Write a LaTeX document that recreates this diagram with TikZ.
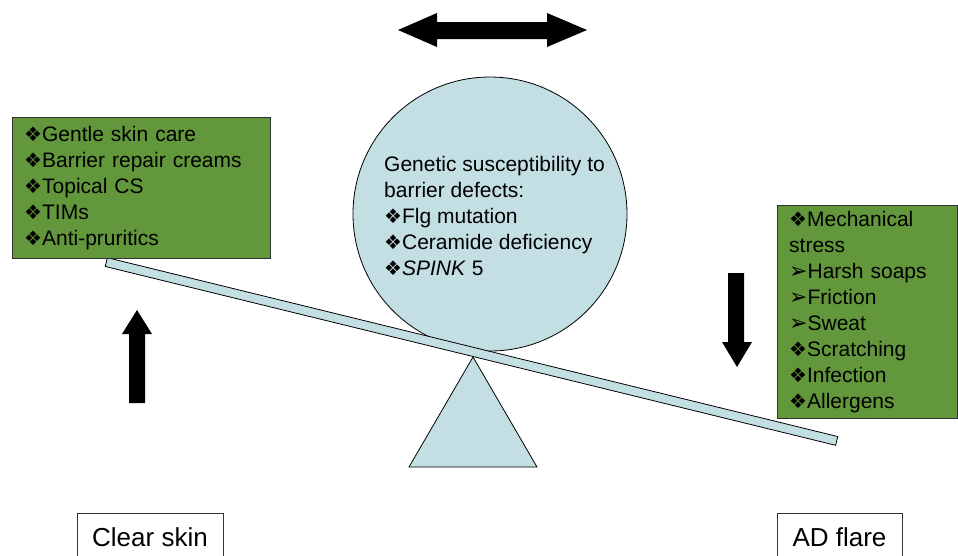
\documentclass[tikz,border=0pt]{standalone}
\usepackage{fontspec}
\setmainfont{Liberation Sans}
\newfontfamily\dingfont{DejaVu Sans}
\usetikzlibrary{calc}
\definecolor{boxgreen}{RGB}{98,151,59}
\definecolor{scalefill}{RGB}{196,223,227}
\newcommand{\diabullet}{{\dingfont\fontsize{20}{20}\selectfont\char"2756}}
\newcommand{\arrbullet}{{\dingfont\fontsize{22}{22}\selectfont\char"27A2}}
\tikzstyle{greenbox}   = [draw=black!80, fill=boxgreen, anchor=north west, align=left, inner xsep=12pt, inner ysep=0pt, font=\fontsize{21}{26}\selectfont]
\tikzstyle{labelbox}   = [draw=black!80, fill=white, minimum height=48pt, font=\fontsize{26}{30}\selectfont]
\tikzstyle{part}       = [draw=black, fill=scalefill, line width=0.8pt]
\tikzstyle{blockarrow} = [fill=black]

\begin{document}
\begin{tikzpicture}[x=1pt, y=-1pt]
  \useasboundingbox (0,0) rectangle (958,555);

  %the balance: ball, beam and pivot
  \node[part, circle, minimum size=274pt, inner sep=0pt] (ball) at (490,214) {};
  \node[anchor=west, align=left, inner sep=0pt, font=\fontsize{21}{26}\selectfont] (genes) at (384,216)
    {Genetic susceptibility to\\barrier defects:\\\diabullet Flg mutation\\\diabullet Ceramide deficiency\\\diabullet\textit{SPINK} 5};
  \node[part, rectangle, minimum width=752pt, minimum height=9pt, inner sep=0pt, rotate=-13.76] (beam) at (471.5,351.5) {};
  \draw[part] (473,357) -- (537,467) -- (409,467) -- cycle;

  %put the boxes on the two ends
  \node[greenbox, text width=234pt, minimum width=258pt, minimum height=141pt] (therapy) at (12,117)
    {\diabullet Gentle skin care\\\diabullet Barrier repair creams\\\diabullet Topical CS\\\diabullet TIMs\\\diabullet Anti-pruritics};
  \node[greenbox, text width=156pt, minimum width=180pt, minimum height=213pt] (triggers) at (777,205)
    {\diabullet Mechanical\\stress\\\arrbullet Harsh soaps\\\arrbullet Friction\\\arrbullet Sweat\\\diabullet Scratching\\\diabullet Infection\\\diabullet Allergens};

  \node[labelbox, minimum width=146pt] (clear) at (150,537) {Clear skin};
  \node[labelbox, minimum width=125pt] (flare) at (839.5,537) {AD flare};

  %block arrows
  \fill[blockarrow] (398,30) -- (437,13) -- (437,22) -- (547,22) -- (547,13) -- (587,30)
    -- (547,47) -- (547,39) -- (437,39) -- (437,47) -- cycle;
  \fill[blockarrow] (137,310) -- (152,334) -- (145,334) -- (145,403) -- (129,403) -- (129,334) -- (122,334) -- cycle;
  \fill[blockarrow] (737,367) -- (752,342) -- (744,342) -- (744,273) -- (728,273) -- (728,342) -- (722,342) -- cycle;
\end{tikzpicture}
\end{document}
